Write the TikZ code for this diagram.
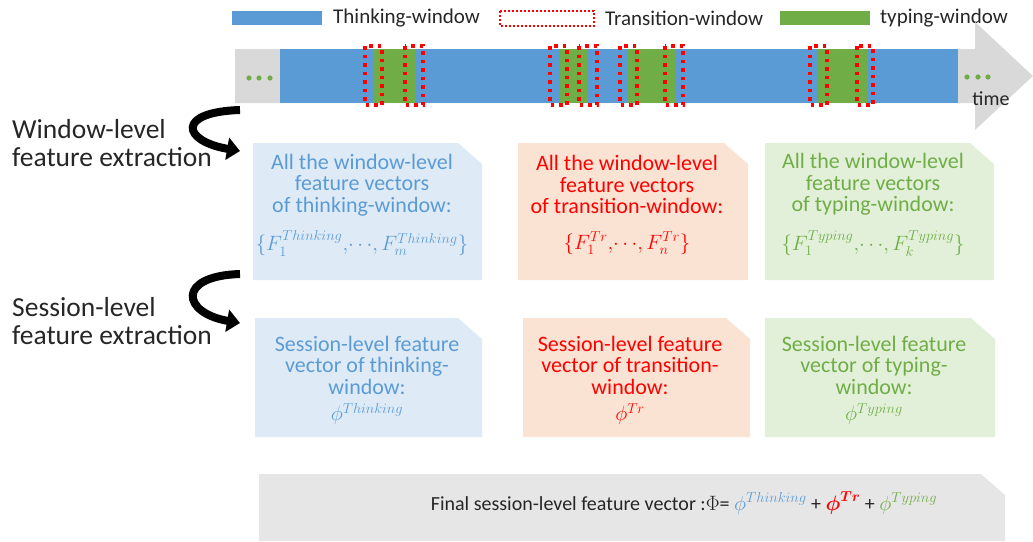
\documentclass[tikz,border=0pt]{standalone}
\usepackage{amsmath}
\usepackage{fontspec}
\setmainfont{Carlito}
\usetikzlibrary{arrows.meta}

\definecolor{thinkblue}{HTML}{5B9BD5}
\definecolor{typegreen}{HTML}{70AD47}
\definecolor{transred}{HTML}{FF0000}
\definecolor{axisgray}{HTML}{D9D9D9}
\definecolor{finalgray}{HTML}{E7E6E6}
\definecolor{thinkfill}{HTML}{DEEBF7}
\definecolor{transfill}{HTML}{FBE3D3}
\definecolor{typefill}{HTML}{E2F0D9}

\tikzset{
  legendtext/.style={anchor=west, font=\fontsize{21}{21}\selectfont, text=black!85, inner sep=0pt},
  trwin/.style={draw=transred, line width=3.5pt, dash pattern=on 3.5pt off 5pt},
  dot/.style={fill=typegreen, draw=none},
  sidelabel/.style={anchor=base west, align=left, inner sep=0pt,
    font=\fontsize{27.5}{28}\selectfont, text=black!85},
  curvearrow/.style={line width=8pt, -{Triangle[width=22pt,length=13pt]}},
  snipbox/.style={inner sep=0pt,
    path picture={\fill[#1]
      (path picture bounding box.south west) --
      (path picture bounding box.north west) --
      ([xshift=-24pt]path picture bounding box.north east) --
      ([yshift=-21pt]path picture bounding box.north east) --
      (path picture bounding box.south east) -- cycle;}},
  boxtext/.style={inner sep=0pt, align=center, font=\fontsize{22}{21.5}\selectfont},
}

\begin{document}
\begin{tikzpicture}[x=1pt, y=-1pt]
\useasboundingbox (0,0) rectangle (1033,541);

% ---- legend ----
\fill[thinkblue] (232,11) rectangle (322,25);
\node[legendtext] (lgthink) at (333,18) {Thinking-window};
\draw[draw=transred, line width=2pt, dash pattern=on 2pt off 2pt] (500,11) rectangle (594,26);
\node[legendtext] (lgtrans) at (605,18) {Transition-window};
\fill[typegreen] (780,11) rectangle (870,25);
\node[legendtext] (lgtype) at (880,18) {typing-window};

% ---- time axis ----
\fill[axisgray] (235,49) -- (975,49) -- (975,22) -- (1033,76) -- (975,130) -- (975,103) -- (235,103) -- cycle;
\fill[thinkblue] (280,49) rectangle (958,103);
% typing windows
\fill[typegreen] (373,49) rectangle (415,103);
\fill[typegreen] (560,49) rectangle (588,103);
\fill[typegreen] (627,49) rectangle (675,103);
\fill[typegreen] (818,49) rectangle (867,103);
% transition windows around them
\draw[trwin] (365,46) rectangle (382,105);
\draw[trwin] (405,46) rectangle (423,105);
\draw[trwin] (550,46) rectangle (567,105);
\draw[trwin] (579,46) rectangle (597,105);
\draw[trwin] (620,46) rectangle (637,105);
\draw[trwin] (665,46) rectangle (683,105);
\draw[trwin] (810,46) rectangle (827,105);
\draw[trwin] (857,46) rectangle (873,105);
% continuation dots
\foreach \x in {249,259,270} \fill[dot] (\x,78) circle (2.6pt);
\foreach \x in {967,978,988} \fill[dot] (\x,77) circle (2.6pt);
\node[font=\fontsize{20}{20}\selectfont, text=black!85, inner sep=0pt] (timelbl) at (991,99) {time};

% ---- side labels and curved arrows ----
\node[sidelabel] (wlabel) at (12,166) {Window-level\\feature extraction};
\node[sidelabel] (slabel) at (12,344) {Session-level\\feature extraction};

\coordinate (a1s) at (240,110);
\coordinate (a1e) at (240,151);
\coordinate (a2s) at (240,274);
\coordinate (a2e) at (240,323);
\draw[curvearrow] (a1s) .. controls (176,112) and (182,141) .. (a1e);
\draw[curvearrow] (a2s) .. controls (176,276) and (182,313) .. (a2e);

% ---- window-level boxes ----
\node[snipbox=thinkfill, minimum width=229pt, minimum height=137pt] (wthink) at (367.5,211.5) {};
\node[snipbox=transfill, minimum width=230pt, minimum height=137pt] (wtrans) at (633,211.5) {};
\node[snipbox=typefill, minimum width=229pt, minimum height=137pt] (wtype) at (879.5,211.5) {};
\node[boxtext, text=thinkblue] (wthinktxt) at (362,205)
  {All the window-level\\feature vectors\\of thinking-window:\\[14pt]
   $\{F_1^{Thinking},\!\cdots\!,F_m^{Thinking}\}$};
\node[boxtext, text=transred] (wtranstxt) at (627,205)
  {All the window-level\\feature vectors\\of transition-window:\\[14pt]
   $\{F_1^{Tr},\!\cdots\!,F_n^{Tr}\}$};
\node[boxtext, text=typegreen] (wtypetxt) at (873,205)
  {All the window-level\\feature vectors\\of typing-window:\\[14pt]
   $\{F_1^{Typing},\!\cdots\!,F_k^{Typing}\}$};

% ---- session-level boxes ----
\node[snipbox=thinkfill, minimum width=227pt, minimum height=119pt] (sthink) at (368.5,377.5) {};
\node[snipbox=transfill, minimum width=227pt, minimum height=119pt] (strans) at (636.5,377.5) {};
\node[snipbox=typefill, minimum width=230pt, minimum height=119pt] (stype) at (880,377.5) {};
\node[boxtext, text=thinkblue] (sthinktxt) at (367,380.5)
  {Session-level feature\\vector of thinking-\\window:\\[5pt] $\phi^{Thinking}$};
\node[boxtext, text=transred] (stranstxt) at (630,380.5)
  {Session-level feature\\vector of transition-\\window:\\[5pt] $\phi^{Tr}$};
\node[boxtext, text=typegreen] (stypetxt) at (874,380.5)
  {Session-level feature\\vector of typing-\\window:\\[5pt] $\phi^{Typing}$};

% ---- final combined vector ----
\node[snipbox=finalgray, minimum width=746pt, minimum height=67pt] (final) at (632,507.5) {};
\node[font=\fontsize{20}{20}\selectfont, inner sep=0pt, text=black!85] (finaltext) at (684,503)
  {Final session-level feature vector :$\Phi$= \textcolor{thinkblue}{$\phi^{Thinking}$} +
   \textcolor{transred}{$\boldsymbol{\phi}^{\boldsymbol{Tr}}$} + \textcolor{typegreen}{$\phi^{Typing}$}};
\end{tikzpicture}
\end{document}
